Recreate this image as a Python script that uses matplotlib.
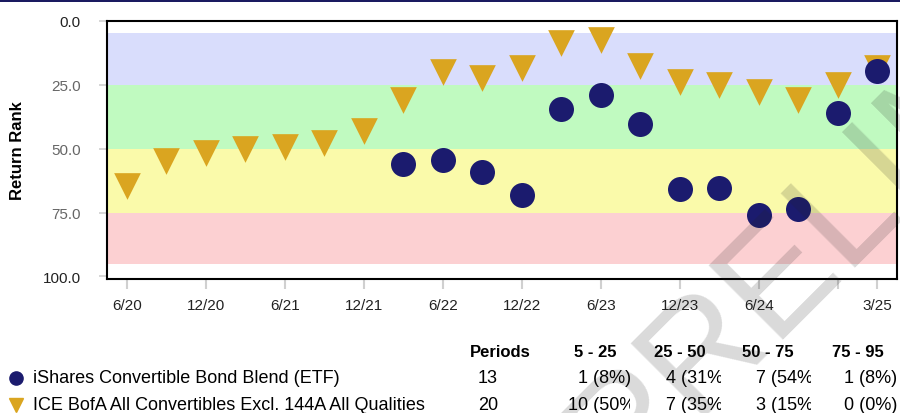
import matplotlib
matplotlib.use("Agg")
import matplotlib.pyplot as plt
from matplotlib.lines import Line2D
from matplotlib.patches import Rectangle
from matplotlib.transforms import Bbox, TransformedBbox

plt.rcParams['font.family'] = ['Liberation Sans', 'DejaVu Sans']

# quarterly periods and return ranks (lower = better)
quarters = ['6/20', '9/20', '12/20', '3/21', '6/21', '9/21', '12/21', '3/22',
            '6/22', '9/22', '12/22', '3/23', '6/23', '9/23', '12/23', '3/24',
            '6/24', '9/24', '12/24', '3/25']
bench_rank = [64.8, 55.0, 51.8, 50.0, 49.3, 47.8, 43.3, 31.0, 20.2, 22.3,
              18.6, 8.6, 7.5, 17.8, 24.0, 25.0, 27.8, 30.9, 25.0, 18.6]
etf_start = '3/22'
etf_rank = [56.0, 54.6, 59.1, 68.3, 34.4, 29.0, 40.5, 66.0, 65.3, 76.1, 73.8, 35.9, 19.6]

tick_quarters = ['6/20', '12/20', '6/21', '12/21', '6/22', '12/22', '6/23',
                 '12/23', '6/24', '12/24', '3/25']
tick_labels = ['6/20', '12/20', '6/21', '12/21', '6/22', '12/22', '6/23',
               '12/23', '6/24', '', '3/25']

bands = [(5, 25), (25, 50), (50, 75), (75, 95)]
band_colors = ['#d9ddfc', '#c0fac0', '#fafaaa', '#fcd0d2']
band_labels = ['5 - 25', '25 - 50', '50 - 75', '75 - 95']

etf_name = 'iShares Convertible Bond Blend (ETF)'
bench_name = 'ICE BofA All Convertibles Excl. 144A All Qualities'
etf_counts = [1, 4, 7, 1]
bench_counts = [10, 7, 3, 0]

NAVY = '#1b1b6e'
GOLD = '#daa520'

W, H = 900, 414
fig = plt.figure(figsize=(W / 100, H / 100), dpi=100)

# thin navy bar at the top
fig.add_artist(Rectangle((0, 1 - 2.5 / H), 1, 2.5 / H, transform=fig.transFigure,
                         color='#1a1a60', lw=0))

ax = fig.add_axes([107 / W, 1 - 280 / H, 790 / W, (280 - 21.7) / H])

for (lo, hi), c in zip(bands, band_colors):
    ax.axhspan(lo, hi, color=c, lw=0, zorder=0)

x_bench = list(range(len(quarters)))
i0 = quarters.index(etf_start)
x_etf = list(range(i0, i0 + len(etf_rank)))

ax.scatter(x_bench, bench_rank, marker='v', s=19.2 ** 2, color=GOLD, linewidths=0, zorder=3)
ax.scatter(x_etf, etf_rank, marker='o', s=18 ** 2, color=NAVY, linewidths=0, zorder=4)

ax.set_xlim(-0.5, len(quarters) - 0.5)
ax.set_ylim(101, 0)

ax.set_yticks([0, 25, 50, 75, 100])
ax.set_yticklabels([f'{v:.1f}' for v in [0, 25, 50, 75, 100]])
for lab, col in zip(ax.get_yticklabels(), ['#222222', '#666666', '#666666', '#666666', '#222222']):
    lab.set_color(col)
ax.set_xticks([quarters.index(q) for q in tick_quarters])
ax.set_xticklabels(tick_labels)

ax.tick_params(axis='y', length=6, width=1.2, color='#d0d0d0', pad=13, labelsize=11)
ax.tick_params(axis='x', length=7, width=1.5, color='#d0d0d0', pad=7, labelsize=11,
               labelcolor='#222222')
for sp in ax.spines.values():
    sp.set_linewidth(1.5)
    sp.set_color('black')

fig.text(18 / W, 1 - 151 / H, 'Return Rank', rotation=90, ha='center', va='center',
         fontsize=12, fontweight='bold')

# legend / statistics table
def fy(py):
    return 1 - py / H

col_heads = [595, 680, 768, 858]
col_centers = [605, 698, 788, 871]
col_clips = [630, 721, 811, 900]

fig.text(470 / W, fy(353), 'Periods', fontsize=12, fontweight='bold', ha='left', va='center')
for cx, lab in zip(col_heads, band_labels):
    fig.text(cx / W, fy(353), lab, fontsize=12, fontweight='bold', ha='center', va='center')

rows = [(etf_name, 'o', 9.5, NAVY, etf_counts, 379),
        (bench_name, 'v', 10.5, GOLD, bench_counts, 406)]
for name, mk, ms, col, counts, py in rows:
    fig.add_artist(Line2D([16 / W], [fy(py)], marker=mk, ms=ms, color=col, lw=0,
                          transform=fig.transFigure))
    fig.text(33 / W, fy(py), name, fontsize=13, ha='left', va='center')
    total = sum(counts)
    fig.text(488 / W, fy(py), str(total), fontsize=13, ha='center', va='center')
    for cx, clip, n in zip(col_centers, col_clips, counts):
        t = fig.text(cx / W, fy(py), f'{n} ({n / total:.0%})', fontsize=13,
                     ha='center', va='center')
        t.set_clip_box(TransformedBbox(Bbox([[0, 0], [clip / W, 1]]), fig.transFigure))
        t.set_clip_on(True)

# watermark
fig.text(621 / W, fy(489), 'PRELIMINARY', fontsize=110, color='#222222', alpha=0.17,
         rotation=45, rotation_mode='anchor', ha='left', va='baseline', zorder=10)

fig.savefig('out.png', dpi=100)
